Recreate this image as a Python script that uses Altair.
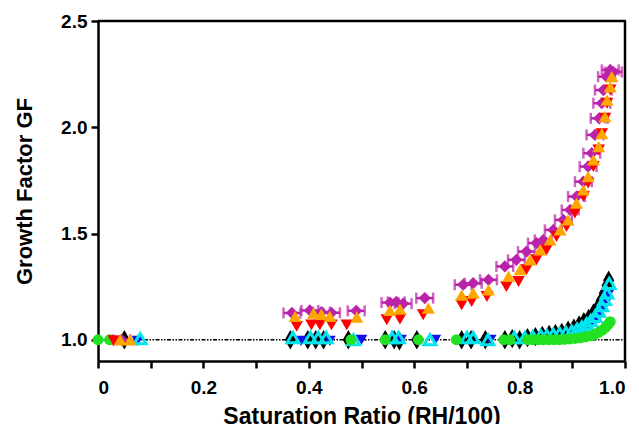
import altair as alt
import pandas as pd

mag_x = [0.045, 0.368, 0.402, 0.424, 0.443, 0.49, 0.554, 0.566, 0.579, 0.62, 0.693, 0.712, 0.741, 0.772, 0.794, 0.813, 0.832, 0.845, 0.864, 0.883, 0.896, 0.908, 0.921, 0.930, 0.937, 0.943, 0.951, 0.956, 0.959, 0.965, 0.972, 0.978]
mag_y = [1.0, 1.126, 1.138, 1.13, 1.127, 1.136, 1.175, 1.178, 1.17, 1.196, 1.259, 1.266, 1.282, 1.345, 1.376, 1.415, 1.455, 1.47, 1.517, 1.564, 1.611, 1.674, 1.744, 1.815, 1.878, 1.964, 2.042, 2.113, 2.175, 2.238, 2.27, 2.26]
mag_err = 0.016

org_x = [0.042, 0.061, 0.374, 0.409, 0.424, 0.44, 0.491, 0.554, 0.573, 0.627, 0.69, 0.712, 0.741, 0.779, 0.801, 0.82, 0.839, 0.858, 0.877, 0.892, 0.908, 0.921, 0.930, 0.94, 0.95, 0.956, 0.962, 0.966, 0.972, 0.975]
org_y = [1.0, 1.0, 1.11, 1.125, 1.12, 1.11, 1.107, 1.138, 1.144, 1.149, 1.21, 1.22, 1.235, 1.298, 1.33, 1.376, 1.423, 1.47, 1.517, 1.564, 1.643, 1.705, 1.768, 1.846, 1.909, 1.97, 2.05, 2.128, 2.19, 2.238]

red_x = [0.03, 0.377, 0.405, 0.421, 0.443, 0.472, 0.548, 0.573, 0.617, 0.69, 0.709, 0.738, 0.775, 0.798, 0.813, 0.832, 0.851, 0.870, 0.889, 0.905, 0.921, 0.93, 0.94, 0.95, 0.956, 0.962, 0.966, 0.972]
red_y = [0.995, 1.063, 1.07, 1.07, 1.07, 1.07, 1.094, 1.097, 1.118, 1.165, 1.18, 1.204, 1.25, 1.274, 1.33, 1.376, 1.423, 1.486, 1.533, 1.596, 1.674, 1.737, 1.815, 1.893, 1.97, 2.042, 2.113, 2.175]

blk_x = [0.05, 0.365, 0.398, 0.413, 0.428, 0.475, 0.545, 0.562, 0.572, 0.605, 0.69, 0.708, 0.735, 0.772, 0.786, 0.80, 0.815, 0.83, 0.843, 0.856, 0.868, 0.88, 0.892, 0.903, 0.913, 0.922, 0.931, 0.94, 0.948, 0.955, 0.961, 0.966, 0.969]
blk_y = [1.0, 1.0, 1.0, 1.0, 1.0, 1.0, 1.0, 1.0, 0.995, 1.0, 1.0, 1.0, 1.0, 1.0, 1.005, 1.0, 1.01, 1.015, 1.02, 1.025, 1.03, 1.035, 1.045, 1.055, 1.07, 1.085, 1.10, 1.125, 1.15, 1.185, 1.22, 1.255, 1.28]

cyn_x = [0.08, 0.37, 0.403, 0.418, 0.433, 0.485, 0.558, 0.57, 0.63, 0.7, 0.712, 0.74, 0.79, 0.81, 0.825, 0.84, 0.852, 0.864, 0.876, 0.888, 0.899, 0.909, 0.918, 0.927, 0.935, 0.943, 0.95, 0.956, 0.961, 0.966, 0.97]
cyn_y = [1.005, 1.01, 1.01, 1.01, 1.01, 1.0, 1.01, 1.01, 1.0, 1.01, 1.01, 1.0, 1.01, 1.01, 1.015, 1.02, 1.02, 1.025, 1.03, 1.035, 1.04, 1.05, 1.06, 1.075, 1.09, 1.11, 1.135, 1.16, 1.19, 1.22, 1.265]

blu_x = [0.075, 0.385, 0.44, 0.5, 0.575, 0.64, 0.745, 0.905, 0.915, 0.925, 0.935, 0.943, 0.95, 0.957, 0.963, 0.968]
blu_y = [0.995, 0.995, 0.995, 1.0, 1.0, 1.0, 1.0, 1.04, 1.05, 1.06, 1.075, 1.09, 1.11, 1.14, 1.17, 1.21]

grn_x = [0.0, 0.022, 0.48, 0.545, 0.608, 0.68, 0.77, 0.782, 0.815, 0.825, 0.835, 0.845, 0.855, 0.865, 0.875, 0.885, 0.895, 0.905, 0.915, 0.925, 0.935, 0.943, 0.95, 0.957, 0.963, 0.968, 0.972]
grn_y = [1.0, 1.0, 1.0, 1.0, 1.0, 1.0, 1.0, 1.0, 1.0, 1.0, 1.0, 1.0, 1.0, 1.0, 1.0, 1.002, 1.004, 1.006, 1.009, 1.013, 1.019, 1.026, 1.035, 1.045, 1.058, 1.072, 1.085]

x_ticks = [0.0, 0.1, 0.2, 0.3, 0.4, 0.5, 0.6, 0.7, 0.8, 0.9, 1.0]
y_ticks = [1.0, 1.5, 2.0, 2.5]
ref_y = [1.0]

FONT = "Liberation Sans"

xs = alt.Scale(domain=[0, 1.0], nice=False, zero=False)
ys = alt.Scale(domain=[0.9, 2.5], nice=False, zero=False)

X = alt.X("x:Q", scale=xs, axis=alt.Axis(
    title="Saturation Ratio (RH/100)", values=x_ticks,
    labelExpr="datum.value == 0 ? '0' : (round(datum.value*10) % 2 == 0 ? format(datum.value, '.1f') : '')",
    grid=False, domainColor="black", domainWidth=2.5, tickColor="black", tickWidth=2.5, tickSize=7,
    labelFont=FONT, labelFontSize=19, labelFontWeight="bold", labelColor="black", labelPadding=10,
    titleFont=FONT, titleFontSize=23, titleFontWeight="bold", titleColor="black", titlePadding=8))
Y = alt.Y("y:Q", scale=ys, axis=alt.Axis(
    title="Growth Factor GF", values=y_ticks, format=".1f",
    grid=False, domainColor="black", domainWidth=2.5, tickColor="black", tickWidth=2.5, tickSize=7,
    labelFont=FONT, labelFontSize=19, labelFontWeight="bold", labelColor="black", labelPadding=4,
    titleFont=FONT, titleFontSize=22, titleFontWeight="bold", titleColor="black", titlePadding=24))

def df(xv, yv):
    return pd.DataFrame({"x": xv, "y": yv})

mag = pd.DataFrame({"x": mag_x, "y": mag_y})
mag["lo"] = mag["x"] - mag_err
mag["hi"] = mag["x"] + mag_err

ref = alt.Chart(pd.DataFrame({"y": ref_y})).mark_rule(
    color="black", strokeWidth=1.5, strokeDash=[4, 1.5, 1.5, 1.5, 1.5, 1.5]
).encode(y=alt.Y("y:Q", scale=ys), x=alt.value(0), x2=alt.value(527))

tall_diamond = "M0,-1.3L0.75,0L0,1.3L-0.75,0Z"

blk = alt.Chart(df(blk_x, blk_y)).mark_point(
    shape=tall_diamond, filled=True, color="black", size=220, opacity=1
).encode(x=X, y=Y)

blu = alt.Chart(df(blu_x, blu_y)).mark_point(
    shape="triangle-down", filled=True, color="#1010ee", size=140, opacity=1
).encode(x=X, y=Y)

cyn = alt.Chart(df(cyn_x, cyn_y)).mark_point(
    shape="triangle-up", filled=False, color="#00e5ee", strokeWidth=3, size=140, opacity=1
).encode(x=X, y=Y)

grn = alt.Chart(df(grn_x, grn_y)).mark_point(
    shape="circle", filled=True, color="#22e022", size=120, opacity=1
).encode(x=X, y=Y)

mag_bar = alt.Chart(mag).mark_rule(color="#bb22aa", strokeWidth=2.5).encode(
    x=alt.X("lo:Q", scale=xs), x2="hi:Q", y=alt.Y("y:Q", scale=ys))
mag_lo = alt.Chart(mag).mark_tick(color="#bb22aa", orient="vertical", size=11, thickness=2.5).encode(
    x=alt.X("lo:Q", scale=xs), y=alt.Y("y:Q", scale=ys))
mag_hi = alt.Chart(mag).mark_tick(color="#bb22aa", orient="vertical", size=11, thickness=2.5).encode(
    x=alt.X("hi:Q", scale=xs), y=alt.Y("y:Q", scale=ys))
mag_pt = alt.Chart(mag).mark_point(
    shape="diamond", filled=True, color="#bb22aa", size=150, opacity=1
).encode(x=X, y=Y)

red = alt.Chart(df(red_x, red_y)).mark_point(
    shape="triangle-down", filled=True, color="#ff0000", size=160, opacity=1
).encode(x=X, y=Y)

org = alt.Chart(df(org_x, org_y)).mark_point(
    shape="triangle-up", filled=True, color="#ffa500", size=170, opacity=1
).encode(x=X, y=Y)

top_line = alt.Chart(pd.DataFrame({"y": ref_y})).mark_rule(
    color="black", strokeWidth=2.5
).encode(x=alt.value(0), x2=alt.value(528), y=alt.value(0))
right_line = alt.Chart(pd.DataFrame({"y": ref_y})).mark_rule(
    color="black", strokeWidth=2.5
).encode(x=alt.value(527), y=alt.value(0), y2=alt.value(340))

chart = alt.layer(
    ref, blk, blu, cyn, grn, mag_bar, mag_lo, mag_hi, mag_pt, red, org, top_line, right_line
).properties(
    width=527, height=340,
    background="white",
    autosize=alt.AutoSizeParams(type="none"),
    padding={"left": 98, "top": 21, "right": 14, "bottom": 63},
).configure_view(stroke=None)

chart.save("out.html", embed_options={"renderer": "svg", "actions": False})
